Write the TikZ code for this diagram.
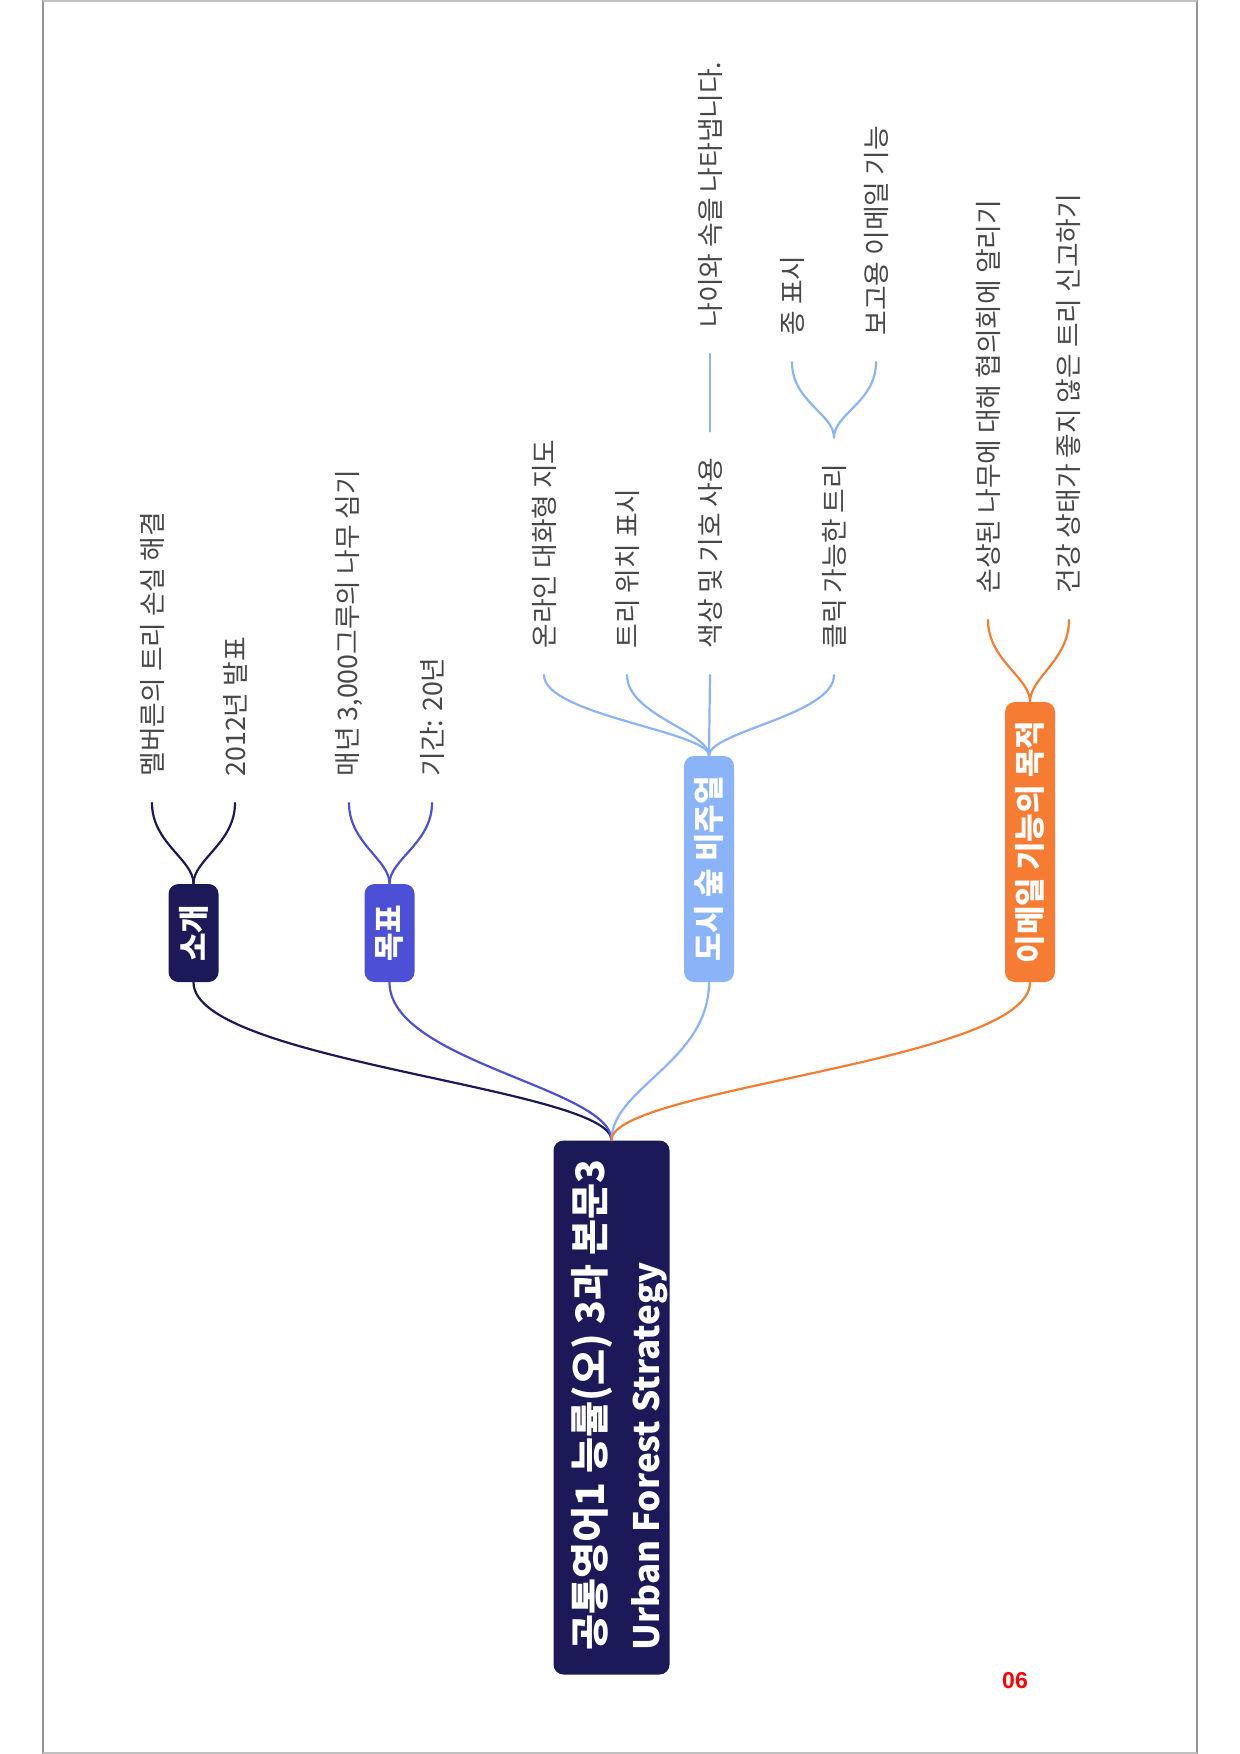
\documentclass[tikz,border=0pt]{standalone}
\usepackage{fontspec}
\newfontfamily\kr{Noto Sans CJK KR}
\newfontfamily\numfont{Liberation Sans}
\definecolor{navy}{RGB}{27,25,87}
\definecolor{royal}{RGB}{75,80,215}
\definecolor{sky}{RGB}{139,179,247}
\definecolor{tang}{RGB}{245,124,50}
\definecolor{leafgray}{RGB}{72,72,72}
\definecolor{framegray}{RGB}{150,150,150}
\begin{document}
\begin{tikzpicture}[x=0.5pt,y=-0.5pt,
  rootbox/.style={rotate=90, fill=navy, rounded corners=5pt,
    minimum width=267pt, minimum height=58pt, inner sep=0pt},
  roottext/.style={rotate=90, text=white, inner sep=0pt,
    align=left, font=\kr\bfseries\fontsize{19.6}{27.5}\selectfont},
  childbox/.style={rotate=90, text=white, rounded corners=5pt,
    minimum height=25pt, inner xsep=0pt, inner ysep=2pt,
    font=\kr\bfseries\fontsize{15.5}{17}\selectfont},
  leaf/.style={rotate=90, anchor=west, inner xsep=13pt, inner ysep=2pt,
    text=leafgray, font=\kr\fontsize{13.4}{16}\selectfont},
  conn/.style={line width=1.1pt, line cap=round}
]
\useasboundingbox (0,0) rectangle (1240,1754);
% page frame
\draw[framegray, line width=0.9pt] (43,0) -- (43,1754);
\draw[framegray, line width=0.9pt] (1197,0) -- (1197,1754);
\draw[framegray!60, line width=0.6pt] (43,1) -- (1197,1);
\draw[framegray!60, line width=0.6pt] (43,1753) -- (1197,1753);

% root
\node[rootbox] (root) at (611.5,1407.5) {};
\node[roottext] (roottxt) at (620,1405) {공통영어1 능률(오) 3과 본문3\\{\fontsize{17.5}{27.5}\selectfont Urban Forest Strategy}};

% main branches
\node[childbox, fill=navy, minimum width=49pt] (c1) at (193.5,933) {소개};
\node[childbox, fill=royal, minimum width=49pt] (c2) at (389.5,933) {목표};
\node[childbox, fill=sky, minimum width=113pt] (c3) at (709,869) {도시 숲 비주얼};
\node[childbox, fill=tang, minimum width=140pt] (c4) at (1030,842) {이메일 기능의 목적};

% leaves
\node[leaf] (l11) at (152,803) {멜버른의 트리 손실 해결};
\node[leaf] (l12) at (235,803) {2012년 발표};
\node[leaf] (l21) at (349,803) {매년 3,000그루의 나무 심기};
\node[leaf] (l22) at (432,803) {기간: 20년};
\node[leaf] (l31) at (544,675) {온라인 대화형 지도};
\node[leaf] (l32) at (627,675) {트리 위치 표시};
\node[leaf] (l33) at (710,675) {색상 및 기호 사용};
\node[leaf] (l331) at (710,354) {나이와 속을 나타냅니다.};
\node[leaf] (l34) at (834,675) {클릭 가능한 트리};
\node[leaf] (l341) at (792,362) {종 표시};
\node[leaf] (l342) at (876,362) {보고용 이메일 기능};
\node[leaf] (l41) at (988,620) {손상된 나무에 대해 협의회에 알리기};
\node[leaf] (l42) at (1069,620) {건강 상태가 좋지 않은 트리 신고하기};

% root connectors
\draw[conn, navy] (root.east) .. controls +(0,-52) and +(0,79) .. (c1.west);
\draw[conn, royal] (root.east) .. controls +(0,-52) and +(0,79) .. (c2.west);
\draw[conn, sky] (root.east) .. controls +(0,-52) and +(0,79) .. (c3.west);
\draw[conn, tang] (root.east) .. controls +(0,-52) and +(0,79) .. (c4.west);

% branch fans
\draw[conn, navy] (c1.east) .. controls +(0,-24) and +(0,40) .. (l11.west);
\draw[conn, navy] (c1.east) .. controls +(0,-24) and +(0,40) .. (l12.west);
\draw[conn, royal] (c2.east) .. controls +(0,-24) and +(0,40) .. (l21.west);
\draw[conn, royal] (c2.east) .. controls +(0,-24) and +(0,40) .. (l22.west);
\draw[conn, sky] (c3.east) .. controls +(0,-24) and +(0,40) .. (l31.west);
\draw[conn, sky] (c3.east) .. controls +(0,-24) and +(0,40) .. (l32.west);
\draw[conn, sky] (c3.east) -- (l33.west);
\draw[conn, sky] (c3.east) .. controls +(0,-24) and +(0,40) .. (l34.west);
\draw[conn, sky] (l33.east) -- (l331.west);
\draw[conn, sky] (l34.east) .. controls +(0,-24) and +(0,40) .. (l341.west);
\draw[conn, sky] (l34.east) .. controls +(0,-24) and +(0,40) .. (l342.west);
\draw[conn, tang] (c4.east) .. controls +(0,-24) and +(0,40) .. (l41.west);
\draw[conn, tang] (c4.east) .. controls +(0,-24) and +(0,40) .. (l42.west);

% page number
\node[text=red, font=\numfont\bfseries\fontsize{11.5}{12}\selectfont] (pg) at (1015,1681) {06};
\end{tikzpicture}
\end{document}
